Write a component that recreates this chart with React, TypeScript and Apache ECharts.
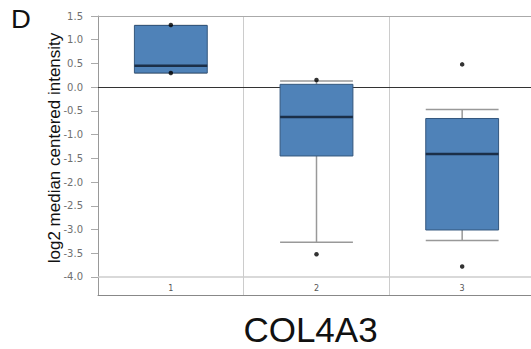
import React, { useEffect, useRef } from "react";
import * as echarts from "echarts";

const categories = ["1", "2", "3"];
const whiskerLow = [0.3, -3.27, -3.23];
const q1 = [0.3, -1.45, -3.01];
const median = [0.45, -0.63, -1.41];
const q3 = [1.3, 0.06, -0.66];
const whiskerHigh = [1.3, 0.13, -0.47];
const points: [number, number][] = [
  [0, 1.31],
  [0, 0.3],
  [1, 0.15],
  [1, -3.52],
  [2, 0.48],
  [2, -3.78],
];
const yTicks = [-4.0, -3.5, -3.0, -2.5, -2.0, -1.5, -1.0, -0.5, 0.0, 0.5, 1.0, 1.5];
const yTitle = "log2 median centered intensity";
const geneTitle = "COL4A3";
const panelLabel = "D";

export default function App() {
  const ref = useRef<HTMLDivElement>(null);
  useEffect(() => {
    if (!ref.current) return;
    const chart = echarts.init(ref.current, undefined, { renderer: "svg" });
    const boxData = categories.map((_, i) => [i, whiskerLow[i], q1[i], median[i], q3[i], whiskerHigh[i]]);
    chart.setOption({
      animation: false,
      grid: {
        left: 98,
        top: 16,
        width: 437,
        height: 279,
        show: false,
        outerBoundsMode: "none",
        containLabel: false,
      },
      xAxis: [
        {
          type: "category",
          data: categories,
          axisLine: { show: true, onZero: false, lineStyle: { color: "#888" } },
          axisTick: { show: false },
          axisLabel: { inside: true, margin: 3, fontSize: 8, color: "#555", fontFamily: "DejaVu Sans" },
          splitLine: { show: true, lineStyle: { color: "#ccc", width: 1 } },
        },
        {
          type: "category",
          position: "top",
          data: categories,
          axisLine: { show: true, onZero: false, lineStyle: { color: "#aaa" } },
          axisTick: { show: false },
          axisLabel: { show: false },
          splitLine: { show: false },
        },
      ],
      yAxis: {
        type: "value",
        min: -4.38,
        max: 1.5,
        axisLine: { show: true, onZero: false, lineStyle: { color: "#999" } },
        axisTick: { show: true, length: 7, customValues: yTicks, lineStyle: { color: "#aaa" } },
        axisLabel: {
          customValues: yTicks,
          margin: 15,
          fontSize: 10,
          color: "#6f6f6f",
          fontFamily: "DejaVu Sans",
          formatter: (v: number) => v.toFixed(1),
        },
        splitLine: { show: false },
      },
      graphic: [
        {
          type: "text",
          x: 54,
          y: 148,
          rotation: Math.PI / 2,
          style: {
            text: yTitle,
            font: "17px 'Liberation Sans', Arial, sans-serif",
            fill: "#111",
            textAlign: "center",
            textVerticalAlign: "middle",
          },
        },
        {
          type: "text",
          x: 310.5,
          y: 329,
          style: {
            text: geneTitle,
            font: "35px 'Liberation Sans', Arial, sans-serif",
            fill: "#111",
            textAlign: "center",
            textVerticalAlign: "middle",
          },
        },
        {
          type: "text",
          x: 11,
          y: 19,
          scaleX: 1.1,
          style: {
            text: panelLabel,
            font: "25px 'Liberation Sans', Arial, sans-serif",
            fill: "#111",
            textAlign: "left",
            textVerticalAlign: "middle",
          },
        },
      ],
      series: [
        {
          type: "custom",
          z: 3,
          data: boxData,
          encode: { x: 0, y: [1, 2, 3, 4, 5] },
          renderItem: (params: any, api: any) => {
            const idx = api.value(0);
            const w = api.size([1, 0])[0] * 0.5;
            const pLow = api.coord([idx, api.value(1)]);
            const pQ1 = api.coord([idx, api.value(2)]);
            const pMed = api.coord([idx, api.value(3)]);
            const pQ3 = api.coord([idx, api.value(4)]);
            const pHigh = api.coord([idx, api.value(5)]);
            const cx = pMed[0];
            const x0 = cx - w / 2;
            const x1 = cx + w / 2;
            const whisk = { stroke: "#999", lineWidth: 1.5 };
            return {
              type: "group",
              children: [
                { type: "line", shape: { x1: cx, y1: pHigh[1], x2: cx, y2: pQ3[1] }, style: whisk },
                { type: "line", shape: { x1: cx, y1: pLow[1], x2: cx, y2: pQ1[1] }, style: whisk },
                { type: "line", shape: { x1: x0, y1: pHigh[1], x2: x1, y2: pHigh[1] }, style: whisk },
                { type: "line", shape: { x1: x0, y1: pLow[1], x2: x1, y2: pLow[1] }, style: whisk },
                {
                  type: "rect",
                  shape: { x: x0, y: pQ3[1], width: w, height: pQ1[1] - pQ3[1] },
                  style: { fill: "#4f82b8", stroke: "#34577e", lineWidth: 1 },
                },
                {
                  type: "line",
                  shape: { x1: x0, y1: pMed[1], x2: x1, y2: pMed[1] },
                  style: { stroke: "#1b2f48", lineWidth: 2.5 },
                },
              ],
            };
          },
        },
        {
          type: "scatter",
          z: 4,
          data: points,
          symbolSize: 4.5,
          itemStyle: { color: "#000" },
          markLine: {
            silent: true,
            symbol: "none",
            label: { show: false },
            z: 1,
            data: [
              { yAxis: 0, lineStyle: { color: "#333", width: 1, type: "solid" } },
              { yAxis: -4.0, lineStyle: { color: "#ccc", width: 1.5, type: "solid" } },
            ],
          },
        },
      ],
    });
    return () => chart.dispose();
  }, []);
  return (
    <div
      ref={ref}
      style={{ position: "absolute", left: 0, top: 0, width: 531, height: 349, background: "#fff", overflow: "hidden" }}
    />
  );
}
